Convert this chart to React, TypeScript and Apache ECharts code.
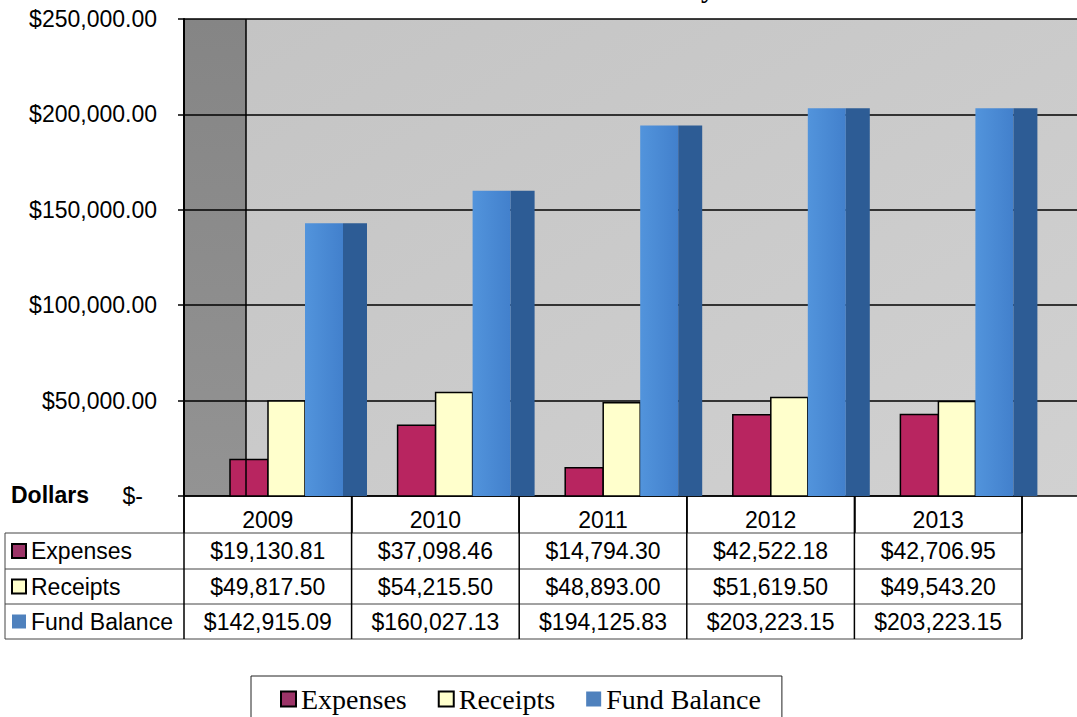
import React, { useEffect, useRef } from 'react';
import * as echarts from 'echarts';

// ---- data ----
const years = ['2009', '2010', '2011', '2012', '2013'];
const expenses = [19130.81, 37098.46, 14794.3, 42522.18, 42706.95];
const receipts = [49817.5, 54215.5, 48893.0, 51619.5, 49543.2];
const fundBalance = [142915.09, 160027.13, 194125.83, 203223.15, 203223.15];
const seriesNames = ['Expenses', 'Receipts', 'Fund Balance'];
const yAxisMax = 250000;
const yAxisStep = 50000;
const axisTitle = 'Dollars';
const titleTail = 'y';

// ---- layout / style ----
const W = 1077;
const H = 717;
const PL = 184; // plot left
const PR = 1022; // plot right (category area)
const PT = 19;
const PB = 496;
const WALL_X = 246;
const ROWS = [533, 569, 604, 639];
const TABLE_LEFT = 5;
const SANS = "'Liberation Sans', Arial, sans-serif";
const SERIF = "'Liberation Serif', 'Times New Roman', serif";
const FS = 23;

const EXP_BAR = '#b82560';
const EXP_MARK = '#9c3468';
const REC = '#ffffcc';
const FB_SIDE = '#2d5c95';
const FB_MARK = '#4f81bd';

const money = (v: number) =>
  '$' + v.toLocaleString('en-US', { minimumFractionDigits: 2, maximumFractionDigits: 2 });

const makeRender = (kind: number) => (params: any, api: any) => {
  const ci = api.value(0);
  const v = api.value(1);
  const top = api.coord([ci, v]);
  const base = api.coord([ci, 0]);
  const band = api.size([1, 0])[0];
  const left = top[0] - band / 2;
  const u = band / 167.6;
  const h = base[1] - top[1];
  if (kind === 0) {
    return {
      type: 'rect',
      shape: { x: left + 46 * u, y: top[1], width: 38 * u, height: h },
      style: { fill: EXP_BAR, stroke: '#000', lineWidth: 1.5 },
    };
  }
  if (kind === 1) {
    return {
      type: 'rect',
      shape: { x: left + 84 * u, y: top[1], width: 37 * u, height: h },
      style: { fill: REC, stroke: '#000', lineWidth: 1.5 },
    };
  }
  return {
    type: 'group',
    children: [
      {
        type: 'rect',
        shape: { x: left + 121 * u, y: top[1], width: 38 * u, height: h },
        style: {
          fill: new echarts.graphic.LinearGradient(0, 0, 1, 0, [
            { offset: 0, color: '#5294dc' },
            { offset: 1, color: '#4280cc' },
          ]),
        },
      },
      {
        type: 'rect',
        shape: { x: left + 159 * u, y: top[1], width: 24 * u, height: h },
        style: { fill: FB_SIDE },
      },
    ],
  };
};

export default function App() {
  const ref = useRef<HTMLDivElement>(null);

  useEffect(() => {
    document.body.style.margin = '0';
    const chart = echarts.init(ref.current!, undefined, { renderer: 'svg' });

    const colW = (PR - PL) / years.length;
    const colX = years.map((_, i) => PL + i * colW);
    const tableValues = [expenses, receipts, fundBalance];
    const markColors = [EXP_MARK, REC, FB_MARK];

    const graphics: any[] = [];
    // walls
    graphics.push({
      type: 'rect',
      z: -10,
      shape: { x: WALL_X, y: PT, width: W - WALL_X, height: PB - PT },
      style: {
        fill: new echarts.graphic.LinearGradient(0, 0, 1, 1, [
          { offset: 0, color: '#c4c4c4' },
          { offset: 1, color: '#d1d1d1' },
        ]),
      },
    });
    graphics.push({
      type: 'rect',
      z: -10,
      shape: { x: PL, y: PT, width: WALL_X - PL, height: PB - PT },
      style: {
        fill: new echarts.graphic.LinearGradient(0, 0, 0, 1, [
          { offset: 0, color: '#858585' },
          { offset: 1, color: '#939393' },
        ]),
      },
    });
    graphics.push({
      type: 'line',
      z: 5,
      shape: { x1: WALL_X, y1: PT, x2: WALL_X, y2: PB },
      style: { stroke: '#000', lineWidth: 1.5 },
    });
    // axis title
    graphics.push({
      type: 'text',
      z: 5,
      x: 11,
      y: 495,
      style: {
        text: axisTitle,
        fontSize: FS,
        fontWeight: 'bold',
        fontFamily: SANS,
        fill: '#000',
        verticalAlign: 'middle',
        align: 'left',
      },
    });
    // cropped title tail (the title itself lies above the visible area)
    graphics.push({
      type: 'text',
      z: 5,
      x: 701,
      y: 1,
      style: {
        text: titleTail,
        fontSize: 28,
        fontWeight: 'bold',
        fontFamily: SERIF,
        fill: '#000',
        verticalAlign: 'bottom',
        align: 'left',
      },
    });
    // table horizontal lines
    ROWS.forEach((y) => {
      graphics.push({
        type: 'line',
        z: 5,
        shape: { x1: TABLE_LEFT, y1: y, x2: PR, y2: y },
        style: { stroke: '#444', lineWidth: 1 },
      });
    });
    // table vertical lines
    graphics.push({
      type: 'line',
      z: 5,
      shape: { x1: TABLE_LEFT, y1: ROWS[0], x2: TABLE_LEFT, y2: ROWS[3] },
      style: { stroke: '#444', lineWidth: 1 },
    });
    [...colX, PR].forEach((x) => {
      graphics.push({
        type: 'line',
        z: 5,
        shape: { x1: x, y1: PB, x2: x, y2: ROWS[3] },
        style: { stroke: '#000', lineWidth: 1.5 },
      });
    });
    // table rows
    seriesNames.forEach((name, r) => {
      const cy = (ROWS[r] + ROWS[r + 1]) / 2;
      graphics.push({
        type: 'rect',
        z: 6,
        shape: { x: 12, y: cy - 7, width: 14, height: 14 },
        style: {
          fill: markColors[r],
          stroke: r < 2 ? '#000' : markColors[r],
          lineWidth: r < 2 ? 2 : 0,
        },
      });
      graphics.push({
        type: 'text',
        z: 6,
        x: 31,
        y: cy,
        style: { text: name, fontSize: FS, fontFamily: SANS, fill: '#000', verticalAlign: 'middle', align: 'left' },
      });
      tableValues[r].forEach((v, i) => {
        graphics.push({
          type: 'text',
          z: 6,
          x: colX[i] + colW / 2,
          y: cy,
          style: { text: money(v), fontSize: FS, fontFamily: SANS, fill: '#000', verticalAlign: 'middle', align: 'center' },
        });
      });
    });

    const option: any = {
      animation: false,
      backgroundColor: '#fff',
      grid: [
        { left: PL, right: W - PR, top: PT, bottom: H - PB, containLabel: false },
        { left: PL, right: 0, top: PT, bottom: H - PB, containLabel: false },
      ],
      xAxis: [
        {
          type: 'category',
          gridIndex: 0,
          data: years,
          boundaryGap: true,
          axisLine: { show: true, lineStyle: { color: '#000', width: 1.5 } },
          axisTick: { show: true, length: 37, lineStyle: { color: '#000', width: 1.5 } },
          axisLabel: { color: '#000', fontSize: FS, fontFamily: SANS, margin: 12, interval: 0 },
          splitLine: { show: false },
        },
        { type: 'value', gridIndex: 1, min: 0, max: 1, show: false },
      ],
      yAxis: [
        {
          type: 'value',
          gridIndex: 0,
          min: 0,
          max: yAxisMax,
          interval: yAxisStep,
          axisLine: { show: true, lineStyle: { color: '#000', width: 2 } },
          axisTick: { show: true, inside: false, length: 6, lineStyle: { color: '#000', width: 1.5 } },
          axisLabel: {
            color: '#000',
            fontSize: FS,
            fontFamily: SANS,
            margin: 27,
            formatter: (v: number) => (v === 0 ? '{z|$-}' : money(v)),
            rich: { z: { fontSize: FS, fontFamily: SANS, color: '#000', padding: [0, 14, 0, 0] } },
          },
          splitLine: { show: false },
        },
        {
          type: 'value',
          gridIndex: 1,
          min: 0,
          max: yAxisMax,
          interval: yAxisStep,
          axisLine: { show: false },
          axisTick: { show: false },
          axisLabel: { show: false },
          splitLine: { show: true, lineStyle: { color: '#000', width: 1.5 } },
        },
      ],
      legend: {
        left: 251,
        top: 676,
        orient: 'horizontal',
        itemWidth: 15,
        itemHeight: 15,
        itemGap: 31,
        padding: [9, 21, 40, 29],
        borderColor: '#222',
        borderWidth: 1,
        selectedMode: false,
        textStyle: { fontFamily: SERIF, fontSize: 28, color: '#000' },
        data: [
          { name: seriesNames[0], icon: 'rect', itemStyle: { color: EXP_MARK, borderColor: '#000', borderWidth: 2 } },
          { name: seriesNames[1], icon: 'rect', itemStyle: { color: REC, borderColor: '#000', borderWidth: 2 } },
          { name: seriesNames[2], icon: 'rect', itemStyle: { color: FB_MARK, borderWidth: 0 } },
        ],
      },
      graphic: { elements: graphics },
      series: [expenses, receipts, fundBalance].map((arr, k) => ({
        type: 'custom',
        name: seriesNames[k],
        xAxisIndex: 0,
        yAxisIndex: 0,
        z: 3,
        renderItem: makeRender(k),
        encode: { x: 0, y: 1 },
        itemStyle: { color: [EXP_MARK, REC, FB_MARK][k] },
        data: arr.map((v, i) => [i, v]),
      })),
    };
    chart.setOption(option);
    return () => chart.dispose();
  }, []);

  return <div ref={ref} style={{ width: W, height: H }} />;
}
